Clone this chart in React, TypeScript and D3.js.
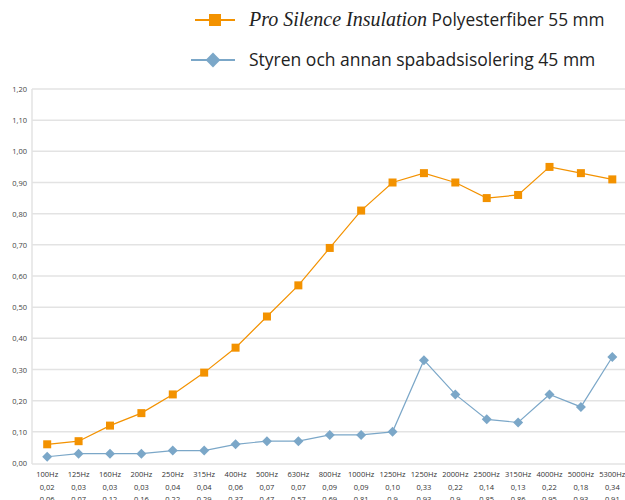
import * as d3 from 'd3'

const categories = ['100Hz', '125Hz', '160Hz', '200Hz', '250Hz', '315Hz', '400Hz', '500Hz', '630Hz', '800Hz', '1000Hz', '1250Hz', '1250Hz', '2000Hz', '2500Hz', '3150Hz', '4000Hz', '5000Hz', '5300Hz']
const styrenValues = [0.02, 0.03, 0.03, 0.03, 0.04, 0.04, 0.06, 0.07, 0.07, 0.09, 0.09, 0.1, 0.33, 0.22, 0.14, 0.13, 0.22, 0.18, 0.34]
const proSilenceValues = [0.06, 0.07, 0.12, 0.16, 0.22, 0.29, 0.37, 0.47, 0.57, 0.69, 0.81, 0.9, 0.93, 0.9, 0.85, 0.86, 0.95, 0.93, 0.91]
const yTicks = [0, 0.1, 0.2, 0.3, 0.4, 0.5, 0.6, 0.7, 0.8, 0.9, 1.0, 1.1, 1.2]

const W = 625
const H = 500
const ORANGE = '#f39200'
const BLUE = '#7ba7c8'
const FONT = 'Open Sans, sans-serif'

const fmt = (v: number) => v.toFixed(2).replace('.', ',')
const fmtShort = (v: number) => String(v).replace('.', ',')

export default function App() {
  const idx = categories.map((_, i) => i)
  const x = d3.scaleBand<number>().domain(idx).range([31.5, 628])
  const cx = (i: number) => (x(i) ?? 0) + x.bandwidth() / 2
  const y = d3.scaleLinear().domain([0, 1.2]).range([463, 89])

  const line = d3
    .line<number>()
    .x((_, i) => cx(i))
    .y((d) => y(d))

  // a square turned 45 degrees, like the reference markers
  const diamond = d3.symbol(d3.symbolSquare, 50)() ?? ''
  const legendDiamond = d3.symbol(d3.symbolSquare, 110)() ?? ''

  return (
    <svg
      width={W}
      height={H}
      style={{ position: 'absolute', left: 0, top: 0, background: '#fff' }}
      fontFamily={FONT}
    >
      {/* legend */}
      <g>
        <line x1={195} x2={235} y1={20} y2={20} stroke={ORANGE} strokeWidth={2} />
        <rect x={209} y={14} width={12} height={12} fill={ORANGE} />
        <text x={249} y={26} fontSize={17.3} fill="#222">
          <tspan fontFamily="Liberation Serif, serif" fontStyle="italic" fontSize={20}>
            Pro Silence Insulation
          </tspan>
          <tspan> Polyesterfiber 55 mm</tspan>
        </text>
        <line x1={191} x2={235} y1={60} y2={60} stroke={BLUE} strokeWidth={2} />
        <path d={legendDiamond} transform="translate(213,60) rotate(45)" fill={BLUE} />
        <text x={249} y={66} fontSize={17.5} fill="#222">
          Styren och annan spabadsisolering 45 mm
        </text>
      </g>

      {/* grid */}
      {yTicks.map((t) => (
        <g key={t}>
          {t > 0 && (
            <line x1={32} x2={W} y1={y(t)} y2={y(t)} stroke="#e3e3e3" strokeWidth={1.5} />
          )}
          <text x={27} y={y(t) + 3} fontSize={7.5} fill="#444" textAnchor="end">
            {fmt(t)}
          </text>
        </g>
      ))}
      <line x1={32} x2={32} y1={89} y2={464} stroke="#e3e3e3" strokeWidth={1.5} />
      <line x1={32} x2={W} y1={464} y2={464} stroke="#e3e3e3" strokeWidth={1.5} />

      {/* series */}
      <path d={line(styrenValues) ?? ''} fill="none" stroke={BLUE} strokeWidth={1.2} />
      <path d={line(proSilenceValues) ?? ''} fill="none" stroke={ORANGE} strokeWidth={1.2} />
      {styrenValues.map((v, i) => (
        <path key={i} d={diamond} transform={`translate(${cx(i)},${y(v)}) rotate(45)`} fill={BLUE} />
      ))}
      {proSilenceValues.map((v, i) => (
        <rect key={i} x={cx(i) - 4} y={y(v) - 4} width={8} height={8} fill={ORANGE} />
      ))}

      {/* table */}
      {categories.map((c, i) => (
        <g key={i} fontSize={7.5} fill="#333" textAnchor="middle">
          <text x={cx(i)} y={477}>{c}</text>
          <text x={cx(i)} y={490}>{fmt(styrenValues[i])}</text>
          <text x={cx(i)} y={502}>
            {proSilenceValues[i] === 0.9 ? fmtShort(proSilenceValues[i]) : fmt(proSilenceValues[i])}
          </text>
        </g>
      ))}
    </svg>
  )
}
